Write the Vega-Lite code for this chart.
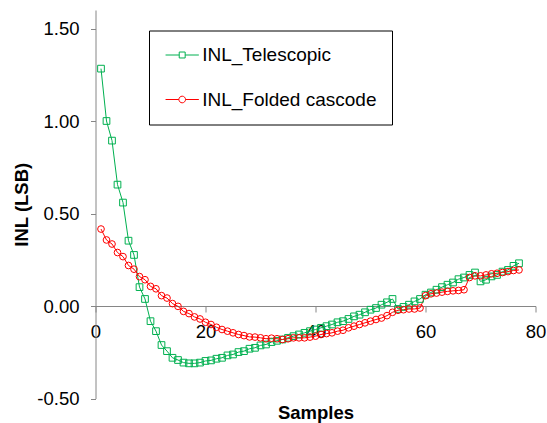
{
  "$schema": "https://vega.github.io/schema/vega-lite/v6.json",
  "width": 440,
  "height": 388.5,
  "autosize": {"type": "none"},
  "padding": {"left": 95.5, "top": 10, "right": 11.5, "bottom": 24.5},
  "background": "white",
  "config": {"view": {"stroke": null}, "font": "Liberation Sans"},
  "data": {
    "values": [
      {"x": 1, "INL_Telescopic": 1.283, "INL_Folded cascode": 0.416},
      {"x": 2, "INL_Telescopic": 1.0, "INL_Folded cascode": 0.357},
      {"x": 3, "INL_Telescopic": 0.894, "INL_Folded cascode": 0.335},
      {"x": 4, "INL_Telescopic": 0.656, "INL_Folded cascode": 0.289},
      {"x": 5, "INL_Telescopic": 0.559, "INL_Folded cascode": 0.267},
      {"x": 6, "INL_Telescopic": 0.353, "INL_Folded cascode": 0.219},
      {"x": 7, "INL_Telescopic": 0.276, "INL_Folded cascode": 0.199},
      {"x": 8, "INL_Telescopic": 0.102, "INL_Folded cascode": 0.159},
      {"x": 9, "INL_Telescopic": 0.038, "INL_Folded cascode": 0.142},
      {"x": 10, "INL_Telescopic": -0.082, "INL_Folded cascode": 0.106},
      {"x": 11, "INL_Telescopic": -0.136, "INL_Folded cascode": 0.093},
      {"x": 12, "INL_Telescopic": -0.211, "INL_Folded cascode": 0.056},
      {"x": 13, "INL_Telescopic": -0.244, "INL_Folded cascode": 0.043},
      {"x": 14, "INL_Telescopic": -0.28, "INL_Folded cascode": 0.013},
      {"x": 15, "INL_Telescopic": -0.292, "INL_Folded cascode": -0.002},
      {"x": 16, "INL_Telescopic": -0.306, "INL_Folded cascode": -0.029},
      {"x": 17, "INL_Telescopic": -0.31, "INL_Folded cascode": -0.041},
      {"x": 18, "INL_Telescopic": -0.31, "INL_Folded cascode": -0.059},
      {"x": 19, "INL_Telescopic": -0.306, "INL_Folded cascode": -0.07},
      {"x": 20, "INL_Telescopic": -0.297, "INL_Folded cascode": -0.088},
      {"x": 21, "INL_Telescopic": -0.294, "INL_Folded cascode": -0.1},
      {"x": 22, "INL_Telescopic": -0.285, "INL_Folded cascode": -0.115},
      {"x": 23, "INL_Telescopic": -0.28, "INL_Folded cascode": -0.127},
      {"x": 24, "INL_Telescopic": -0.267, "INL_Folded cascode": -0.136},
      {"x": 25, "INL_Telescopic": -0.262, "INL_Folded cascode": -0.145},
      {"x": 26, "INL_Telescopic": -0.249, "INL_Folded cascode": -0.154},
      {"x": 27, "INL_Telescopic": -0.244, "INL_Folded cascode": -0.16},
      {"x": 28, "INL_Telescopic": -0.231, "INL_Folded cascode": -0.167},
      {"x": 29, "INL_Telescopic": -0.226, "INL_Folded cascode": -0.168},
      {"x": 30, "INL_Telescopic": -0.213, "INL_Folded cascode": -0.172},
      {"x": 31, "INL_Telescopic": -0.208, "INL_Folded cascode": -0.177},
      {"x": 32, "INL_Telescopic": -0.195, "INL_Folded cascode": -0.174},
      {"x": 33, "INL_Telescopic": -0.188, "INL_Folded cascode": -0.177},
      {"x": 34, "INL_Telescopic": -0.181, "INL_Folded cascode": -0.181},
      {"x": 35, "INL_Telescopic": -0.172, "INL_Folded cascode": -0.177},
      {"x": 36, "INL_Telescopic": -0.163, "INL_Folded cascode": -0.172},
      {"x": 37, "INL_Telescopic": -0.154, "INL_Folded cascode": -0.172},
      {"x": 38, "INL_Telescopic": -0.145, "INL_Folded cascode": -0.172},
      {"x": 39, "INL_Telescopic": -0.136, "INL_Folded cascode": -0.168},
      {"x": 40, "INL_Telescopic": -0.127, "INL_Folded cascode": -0.163},
      {"x": 41, "INL_Telescopic": -0.118, "INL_Folded cascode": -0.154},
      {"x": 42, "INL_Telescopic": -0.109, "INL_Folded cascode": -0.149},
      {"x": 43, "INL_Telescopic": -0.1, "INL_Folded cascode": -0.145},
      {"x": 44, "INL_Telescopic": -0.088, "INL_Folded cascode": -0.136},
      {"x": 45, "INL_Telescopic": -0.082, "INL_Folded cascode": -0.131},
      {"x": 46, "INL_Telescopic": -0.07, "INL_Folded cascode": -0.118},
      {"x": 47, "INL_Telescopic": -0.056, "INL_Folded cascode": -0.109},
      {"x": 48, "INL_Telescopic": -0.047, "INL_Folded cascode": -0.1},
      {"x": 49, "INL_Telescopic": -0.034, "INL_Folded cascode": -0.091},
      {"x": 50, "INL_Telescopic": -0.02, "INL_Folded cascode": -0.082},
      {"x": 51, "INL_Telescopic": -0.011, "INL_Folded cascode": -0.073},
      {"x": 52, "INL_Telescopic": 0.007, "INL_Folded cascode": -0.065},
      {"x": 53, "INL_Telescopic": 0.02, "INL_Folded cascode": -0.052},
      {"x": 54, "INL_Telescopic": 0.038, "INL_Folded cascode": -0.034},
      {"x": 55, "INL_Telescopic": -0.016, "INL_Folded cascode": -0.023},
      {"x": 56, "INL_Telescopic": -0.005, "INL_Folded cascode": -0.02},
      {"x": 57, "INL_Telescopic": 0.007, "INL_Folded cascode": -0.016},
      {"x": 58, "INL_Telescopic": 0.025, "INL_Folded cascode": -0.016},
      {"x": 59, "INL_Telescopic": 0.038, "INL_Folded cascode": -0.011},
      {"x": 60, "INL_Telescopic": 0.061, "INL_Folded cascode": 0.056},
      {"x": 61, "INL_Telescopic": 0.073, "INL_Folded cascode": 0.066},
      {"x": 62, "INL_Telescopic": 0.088, "INL_Folded cascode": 0.07},
      {"x": 63, "INL_Telescopic": 0.102, "INL_Folded cascode": 0.075},
      {"x": 64, "INL_Telescopic": 0.115, "INL_Folded cascode": 0.079},
      {"x": 65, "INL_Telescopic": 0.127, "INL_Folded cascode": 0.082},
      {"x": 66, "INL_Telescopic": 0.145, "INL_Folded cascode": 0.084},
      {"x": 67, "INL_Telescopic": 0.154, "INL_Folded cascode": 0.088},
      {"x": 68, "INL_Telescopic": 0.168, "INL_Folded cascode": 0.154},
      {"x": 69, "INL_Telescopic": 0.181, "INL_Folded cascode": 0.163},
      {"x": 70, "INL_Telescopic": 0.133, "INL_Folded cascode": 0.163},
      {"x": 71, "INL_Telescopic": 0.142, "INL_Folded cascode": 0.168},
      {"x": 72, "INL_Telescopic": 0.16, "INL_Folded cascode": 0.174},
      {"x": 73, "INL_Telescopic": 0.168, "INL_Folded cascode": 0.177},
      {"x": 74, "INL_Telescopic": 0.186, "INL_Folded cascode": 0.181},
      {"x": 75, "INL_Telescopic": 0.195, "INL_Folded cascode": 0.186},
      {"x": 76, "INL_Telescopic": 0.217, "INL_Folded cascode": 0.192},
      {"x": 77, "INL_Telescopic": 0.231, "INL_Folded cascode": 0.195}
    ]
  },
  "transform": [{"fold": ["INL_Telescopic", "INL_Folded cascode"], "as": ["series", "inl"]}],
  "encoding": {
    "x": {
      "field": "x", "type": "quantitative",
      "scale": {"domain": [0, 80], "nice": false},
      "axis": {
        "title": "Samples", "values": [0, 20, 40, 60, 80], "offset": -92.5,
        "grid": false, "domainColor": "#868686", "tickColor": "#868686",
        "tickSize": 6, "labelPadding": 10, "labelFontSize": 18.5, "labelColor": "#000",
        "labelFlush": false, "labelOverlap": false,
        "titleFontSize": 18.5, "titleFontWeight": "bold", "titleColor": "#000",
        "titleY": 112, "titleBaseline": "alphabetic"
      }
    },
    "y": {
      "field": "inl", "type": "quantitative",
      "scale": {"domain": [-0.5, 1.6], "nice": false, "zero": false},
      "axis": {
        "title": "INL (LSB)", "values": [-0.5, 0, 0.5, 1, 1.5],
        "labelExpr": "replace(format(datum.value, '.2f'), '\u2212', '-')",
        "grid": false, "domainColor": "#868686", "tickColor": "#868686",
        "tickSize": 5, "labelPadding": 11.5, "labelFontSize": 18.5, "labelColor": "#000",
        "labelFlush": false, "labelOverlap": false,
        "titleFontSize": 18.5, "titleFontWeight": "bold", "titleColor": "#000",
        "titleX": -74.5, "titleBaseline": "middle"
      }
    },
    "color": {
      "field": "series", "type": "nominal",
      "scale": {"domain": ["INL_Telescopic", "INL_Folded cascode"], "range": ["#00B050", "#FF0000"]},
      "legend": {
        "orient": "none", "legendX": 53.5, "legendY": 20.5, "title": null,
        "padding": 15, "strokeColor": "#000", "fillColor": "#fff",
        "labelFontSize": 19, "labelColor": "#000", "labelFont": "Liberation Sans", "labelLimit": 400,
        "symbolSize": 324, "symbolOffset": 8.7, "labelOffset": 10.5, "rowPadding": 24.5,
        "symbolStrokeWidth": 1,
        "encode": {
          "symbols": {
            "update": {
              "shape": {"signal": "datum.value === 'INL_Telescopic' ? 'M-1.85,0H-0.33M0.33,0H1.85M-0.33,-0.33H0.33V0.33H-0.33Z' : 'M-1.85,0H-0.37M0.37,0H1.85M0.37,0A0.37,0.37,0,1,1,-0.37,0A0.37,0.37,0,1,1,0.37,0Z'"},
              "fill": {"value": "transparent"},
              "opacity": {"value": 1}
            }
          }
        }
      }
    }
  },
  "layer": [
    {"mark": {"type": "line", "strokeWidth": 1}},
    {
      "transform": [{"filter": "datum.series === 'INL_Telescopic'"}],
      "mark": {"type": "point", "shape": "square", "filled": false, "size": 45, "strokeWidth": 1, "opacity": 1}
    },
    {
      "transform": [{"filter": "datum.series === 'INL_Folded cascode'"}],
      "mark": {"type": "point", "shape": "circle", "filled": false, "size": 45, "strokeWidth": 1, "opacity": 1}
    }
  ]
}
